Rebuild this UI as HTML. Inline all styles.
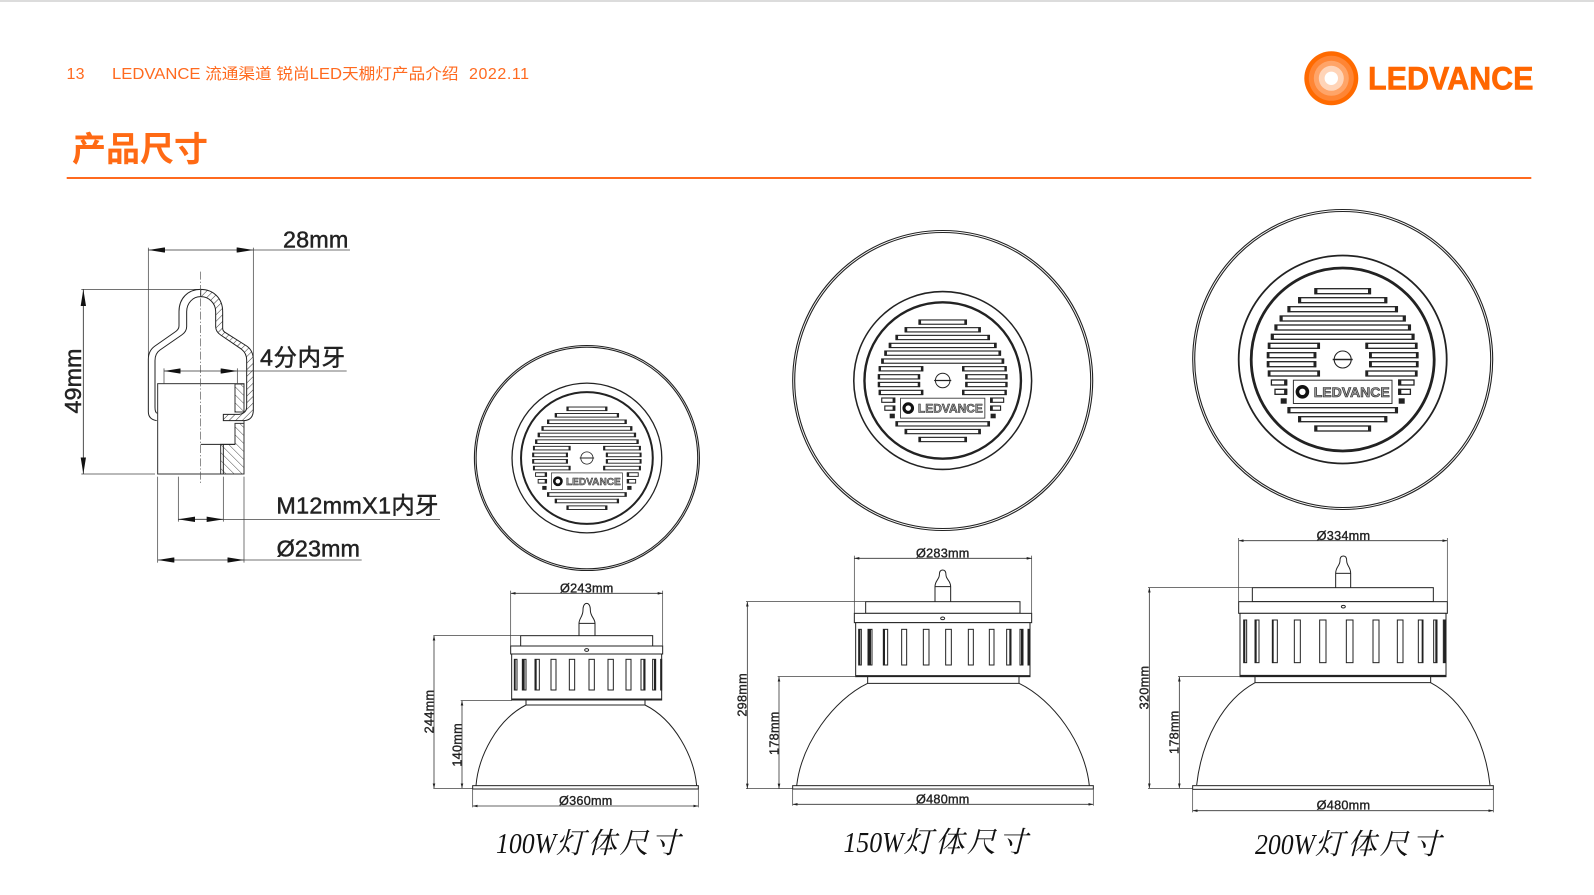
<!DOCTYPE html>
<html lang="zh"><head><meta charset="utf-8"><title>产品尺寸</title>
<style>
html,body{margin:0;padding:0;background:#fff;width:1594px;height:895px;overflow:hidden}
svg{display:block}
text{font-family:"Liberation Sans","Noto Sans CJK SC",sans-serif}
.o{fill:#fff;stroke:#222;stroke-width:3}
.n{fill:none;stroke:#222;stroke-width:3}
.d{fill:none;stroke:#333;stroke-width:2.4;marker-start:url(#a);marker-end:url(#a)}
.e{fill:none;stroke:#444;stroke-width:2.2}
.D{fill:none;stroke:#333;stroke-width:2.6}
.l{font-size:38px;fill:#222;stroke:#222;stroke-width:1.1;text-anchor:middle}
.c{font-size:70px;fill:#222;stroke:#222;stroke-width:1.4}
.t{font-family:"Liberation Serif","Noto Serif CJK SC",serif;font-style:italic;fill:#111;font-size:29px}
.tc{font-family:"Noto Serif CJK SC","Liberation Serif",serif;font-style:italic;fill:#111;font-size:29px}
.s rect{fill:#fff;stroke:#222;stroke-width:1.3}
.k rect{fill:#222;stroke:none}
</style></head><body>
<svg width="1594" height="895" viewBox="0 0 1594 895" xmlns="http://www.w3.org/2000/svg">
<defs>
<marker id="a" viewBox="0 0 15 8" refX="15" refY="4" markerWidth="15" markerHeight="8" orient="auto-start-reverse" markerUnits="userSpaceOnUse"><path d="M0 0L15 4L0 8z" fill="#222"/></marker>
<marker id="b" viewBox="0 0 50 16" refX="50" refY="8" markerWidth="50" markerHeight="16" orient="auto-start-reverse" markerUnits="userSpaceOnUse"><path d="M0 0L50 8L0 16z" fill="#111"/></marker>
<pattern id="h1" width="14" height="14" patternUnits="userSpaceOnUse" patternTransform="rotate(45)"><rect width="14" height="14" fill="#fff"/><line x1="0" y1="0" x2="0" y2="14" stroke="#333" stroke-width="3"/></pattern>
<pattern id="h2" width="17" height="17" patternUnits="userSpaceOnUse" patternTransform="rotate(-45)"><rect width="17" height="17" fill="#fff"/><line x1="0" y1="0" x2="0" y2="17" stroke="#333" stroke-width="2.6"/></pattern>
<g id="half">
<g class="s">
<rect x="-74.3" y="-16.2" width="51" height="5"/><rect x="-75.3" y="-6.8" width="48.3" height="5"/><rect x="-75.3" y="2.2" width="48.3" height="5"/><rect x="-74.3" y="11.5" width="51" height="5"/>
<rect x="-71.3" y="20.5" width="15.3" height="5"/><rect x="-67.7" y="29.8" width="11.7" height="5"/>
</g>
<g class="k">
<rect x="-74.8" y="-16.7" width="2.6" height="6"/><rect x="-25.5" y="-16.7" width="2.8" height="6"/><rect x="-75.8" y="-7.3" width="2.6" height="6"/><rect x="-29.2" y="-7.3" width="2.8" height="6"/><rect x="-75.8" y="1.7" width="2.6" height="6"/><rect x="-29.2" y="1.7" width="2.8" height="6"/><rect x="-74.8" y="11" width="2.6" height="6"/><rect x="-25.5" y="11" width="2.8" height="6"/>
<rect x="-58.6" y="20" width="3" height="6"/><rect x="-58.6" y="29.3" width="3" height="6"/><rect x="-62" y="38.8" width="6" height="5.4"/>
</g>
</g>
<g id="inner">
<circle r="104" fill="#fff" stroke="#222" stroke-width="1.8"/>
<circle r="91.5" fill="#fff" stroke="#222" stroke-width="2.8"/>
<g class="s">
<rect x="-27.8" y="-70.8" width="55.6" height="5"/><rect x="-44" y="-61.8" width="88" height="5"/><rect x="-54.7" y="-52.8" width="109.4" height="5"/><rect x="-62.5" y="-43.5" width="125" height="5"/><rect x="-67.7" y="-34.5" width="135.4" height="5"/><rect x="-71.3" y="-25.2" width="142.6" height="5"/>
<rect x="-54.7" y="48.2" width="109.4" height="5"/><rect x="-44" y="57.2" width="88" height="5"/><rect x="-27.8" y="66.5" width="55.6" height="5"/>
</g>
<g class="k">
<rect x="-28.3" y="-71.3" width="3" height="6"/><rect x="25.3" y="-71.3" width="3" height="6"/><rect x="-44.5" y="-62.3" width="3" height="6"/><rect x="41.5" y="-62.3" width="3" height="6"/><rect x="-55.2" y="-53.3" width="3" height="6"/><rect x="52.2" y="-53.3" width="3" height="6"/><rect x="-63" y="-44" width="3" height="6"/><rect x="60" y="-44" width="3" height="6"/><rect x="-68.2" y="-35" width="3" height="6"/><rect x="65.2" y="-35" width="3" height="6"/><rect x="-71.8" y="-25.7" width="3" height="6"/><rect x="68.8" y="-25.7" width="3" height="6"/>
<rect x="-55.2" y="47.7" width="3" height="6"/><rect x="52.2" y="47.7" width="3" height="6"/><rect x="-44.5" y="56.7" width="3" height="6"/><rect x="41.5" y="56.7" width="3" height="6"/><rect x="-28.3" y="66" width="3" height="6"/><rect x="25.3" y="66" width="3" height="6"/>
</g>
<use href="#half"/><use href="#half" transform="scale(-1,1)"/>
<circle r="8.5" fill="#fff" stroke="#222" stroke-width="1.1"/>
<path d="M-10 0H10" stroke="#222" stroke-width="1.4"/>
<rect x="-49.3" y="20.7" width="98.6" height="23.3" fill="#fff" stroke="#333" stroke-width="1"/>
<circle cx="-40.3" cy="32.3" r="5" fill="#fff" stroke="#111" stroke-width="3.6"/>
</g>
</defs>

<rect x="0" y="0" width="1594" height="2" fill="#dcdcdc"/>

<!-- header -->
<text x="66.5" y="79" font-size="16" fill="#ff6a1f" textLength="18">13</text>
<text x="112" y="79" font-size="15.5" fill="#ff6a1f" textLength="346.5" lengthAdjust="spacingAndGlyphs">LEDVANCE 流通渠道 锐尚LED天棚灯产品介绍</text>
<text x="469" y="79" font-size="16" fill="#ff6a1f" textLength="60">2022.11</text>
<text x="72" y="161" font-size="34" font-weight="700" fill="#ff6a14" textLength="136" lengthAdjust="spacingAndGlyphs" style="font-family:'Noto Sans CJK SC',sans-serif">产品尺寸</text>
<rect x="66.7" y="177" width="1464.6" height="2" fill="#ff6a1f"/>

<!-- logo -->
<circle cx="1331.3" cy="78.3" r="27" fill="#ff6a00"/>
<circle cx="1331.3" cy="78.3" r="22.5" fill="#ff8534"/>
<circle cx="1331.3" cy="78.3" r="17.5" fill="#ffa468"/>
<circle cx="1331.3" cy="78.3" r="12.5" fill="#ffd4b8"/>
<circle cx="1331.3" cy="78.3" r="6.7" fill="#fff"/>
<text x="1368" y="89.5" font-size="32" font-weight="700" fill="#ff6600" stroke="#ff6600" stroke-width=".6" textLength="165.5" lengthAdjust="spacingAndGlyphs">LEDVANCE</text>

<!-- connector -->
<g transform="translate(40,200) scale(.33333)">
<line class="e" x1="325" y1="143" x2="325" y2="470"/>
<line class="e" x1="640" y1="143" x2="640" y2="470"/>
<line class="D" x1="325" y1="150" x2="640" y2="150" style="marker-start:url(#b);marker-end:url(#b)"/>
<line class="e" x1="640" y1="150" x2="930" y2="150"/>
<line class="e" x1="124" y1="268" x2="482" y2="268"/>
<line class="e" x1="124" y1="822" x2="345" y2="822"/>
<line class="D" x1="130" y1="268" x2="130" y2="822" style="marker-start:url(#b);marker-end:url(#b)"/>
<rect x="353" y="551" width="259" height="271" fill="#fff" stroke="#333" stroke-width="3"/>
<path d="M585 552H612V636H585Z" fill="url(#h2)" stroke="#333" stroke-width="3"/>
<path d="M585 670H612V822H542V733H585Z" fill="url(#h2)" stroke="#333" stroke-width="3"/>
<path d="M482 733H585" class="n"/><path d="M550 733V822" class="n"/>
<path d="M482 268C444 268 417 295 417 335V378Q417 388 405 396L345 438Q325 452 325 478V635Q325 658 350 662M482 290C458 290 440 310 440 335V380Q440 395 425 405L360 450Q345 460 345 482V622Q345 638 352 640" class="n"/>
<path d="M482 268C520 268 548 295 548 335V385Q548 392 555 397L620 438Q640 452 640 480V630Q640 660 612 662H550V643H598Q620 640 620 620V480Q620 460 605 448L542 405Q527 395 527 380V335C527 310 507 290 482 290Z" fill="url(#h1)" stroke="#222" stroke-width="3"/>
<line x1="482" y1="215" x2="482" y2="852" stroke="#555" stroke-width="2" stroke-dasharray="24 6 4 6"/>
<line class="e" x1="372" y1="505" x2="372" y2="550"/>
<line class="e" x1="592" y1="505" x2="592" y2="550"/>
<line class="D" x1="372" y1="513" x2="592" y2="513" style="marker-start:url(#b);marker-end:url(#b)"/>
<line class="e" x1="592" y1="513" x2="920" y2="513"/>
<line class="e" x1="415" y1="830" x2="415" y2="965"/>
<line class="e" x1="550" y1="830" x2="550" y2="965"/>
<line class="D" x1="415" y1="958" x2="550" y2="958" style="marker-start:url(#b);marker-end:url(#b)"/>
<line class="e" x1="550" y1="958" x2="1200" y2="958"/>
<line class="e" x1="353" y1="830" x2="353" y2="1088"/>
<line class="e" x1="612" y1="830" x2="612" y2="1088"/>
<line class="D" x1="353" y1="1080" x2="612" y2="1080" style="marker-start:url(#b);marker-end:url(#b)"/>
<line class="e" x1="612" y1="1080" x2="965" y2="1080"/>
<text class="c" x="729" y="142" textLength="196">28mm</text>
<text class="c" x="660" y="497" textLength="255">4分内牙</text>
<text class="c" x="709" y="940" textLength="486">M12mmX1内牙</text>
<text class="c" x="710" y="1070" textLength="250">Ø23mm</text>
<text class="c" transform="translate(123,543) rotate(-90)" text-anchor="middle" textLength="195">49mm</text>
</g>

<!-- top views -->
<circle cx="586.9" cy="458" r="112.5" fill="none" stroke="#222" stroke-width="1.1"/>
<circle cx="586.9" cy="458" r="110.8" fill="none" stroke="#222" stroke-width="1.1"/>
<g transform="translate(586.9,458) scale(.72)"><use href="#inner"/><text x="-29" y="37.5" font-size="14" font-weight="700" fill="#999" stroke="#222" stroke-width=".6" textLength="76" lengthAdjust="spacingAndGlyphs">LEDVANCE</text></g>

<circle cx="942.7" cy="380.5" r="150" fill="none" stroke="#222" stroke-width="1.1"/>
<circle cx="942.7" cy="380.5" r="148" fill="none" stroke="#222" stroke-width="1.1"/>
<g transform="translate(942.7,380.5) scale(.855)"><use href="#inner"/><text x="-29" y="37.5" font-size="14" font-weight="700" fill="#999" stroke="#222" stroke-width=".6" textLength="76" lengthAdjust="spacingAndGlyphs">LEDVANCE</text></g>

<circle cx="1342.7" cy="359.5" r="150" fill="none" stroke="#222" stroke-width="1.1"/>
<circle cx="1342.7" cy="359.5" r="148" fill="none" stroke="#222" stroke-width="1.1"/>
<g transform="translate(1342.7,359.5)"><use href="#inner"/><text x="-29" y="37.5" font-size="14" font-weight="700" fill="#999" stroke="#222" stroke-width=".6" textLength="76" lengthAdjust="spacingAndGlyphs">LEDVANCE</text></g>

<!-- 100W side -->
<g transform="translate(420,570) scale(.33333)">
<path class="o" d="M477 197V160C477 145 489 140 489 120C489 105 495 100 500 100C505 100 511 105 511 120C511 140 525 145 525 160V197"/>
<path class="n" d="M477 160H525"/>
<rect class="o" x="302" y="197" width="396" height="31"/>
<rect class="o" x="272" y="228" width="456" height="24"/>
<ellipse class="n" cx="500" cy="240" rx="6" ry="4"/>
<rect class="o" x="275" y="252" width="450" height="138"/>
<path d="M275 388H725" stroke="#222" stroke-width="5"/>
<path class="o" d="M318 390H675V405H318Z"/>
<path class="n" d="M318 405C230 450 175 560 168 647M675 405C765 450 822 560 830 647"/>
<rect class="o" x="158" y="647" width="677" height="10"/>
<g fill="#fff" stroke="#222" stroke-width="3">
<rect x="283" y="268" width="8" height="92"/><rect x="307" y="268" width="11" height="92"/><rect x="345" y="268" width="13" height="92"/><rect x="393" y="268" width="15" height="92"/><rect x="448" y="268" width="16" height="92"/><rect x="507" y="268" width="16" height="92"/><rect x="564" y="268" width="16" height="92"/><rect x="618" y="268" width="15" height="92"/><rect x="663" y="268" width="12" height="92"/><rect x="698" y="268" width="9" height="92"/><rect x="722" y="268" width="3" height="92"/>
</g>
<g fill="#222"><rect x="283" y="268" width="4" height="92"/><rect x="307" y="268" width="7" height="92"/><rect x="345" y="268" width="5" height="92"/><rect x="670" y="268" width="5" height="92"/><rect x="702" y="268" width="5" height="92"/></g>
<line class="e" x1="272" y1="62" x2="272" y2="228"/><line class="e" x1="728" y1="62" x2="728" y2="228"/>
<line class="d" x1="272" y1="70" x2="728" y2="70"/>
<text class="l" x="500" y="68" textLength="160">Ø243mm</text>
<line class="e" x1="40" y1="197" x2="302" y2="197"/>
<line class="e" x1="40" y1="655" x2="158" y2="655"/>
<line class="d" x1="42" y1="197" x2="42" y2="655"/>
<line class="e" x1="122" y1="392" x2="275" y2="392"/>
<line class="d" x1="126" y1="392" x2="126" y2="655"/>
<text class="l" transform="translate(41,425) rotate(-90)" textLength="130">244mm</text>
<text class="l" transform="translate(124,525) rotate(-90)" textLength="130">140mm</text>
<line class="e" x1="158" y1="657" x2="158" y2="712"/><line class="e" x1="835" y1="657" x2="835" y2="712"/>
<line class="d" x1="158" y1="708" x2="835" y2="708"/>
<text class="l" x="497" y="705" textLength="160">Ø360mm</text>
</g>
<text class="t" x="496" y="853" textLength="60" lengthAdjust="spacingAndGlyphs">100W</text>
<text class="tc" x="556" y="853" textLength="124">灯体尺寸</text>

<!-- 150W side -->
<g transform="translate(730,540) scale(.33333)">
<path class="o" d="M615 185V140C615 122 628 118 628 105C628 95 632 90 638 90C644 90 648 95 648 105C648 118 662 122 662 140V185"/>
<path class="n" d="M615 140H662"/>
<rect class="o" x="407" y="185" width="463" height="35"/>
<rect class="o" x="373" y="220" width="532" height="28"/>
<ellipse class="n" cx="638" cy="235" rx="6" ry="4"/>
<rect class="o" x="377" y="248" width="523" height="162"/>
<path d="M377 408H900" stroke="#222" stroke-width="5"/>
<path class="o" d="M413 410H867V430H413Z"/>
<path class="n" d="M413 430C310 480 215 610 200 737M867 430C970 480 1065 610 1078 737"/>
<rect class="o" x="188" y="737" width="902" height="10"/>
<g fill="#fff" stroke="#222" stroke-width="3">
<rect x="386" y="268" width="8" height="107"/><rect x="414" y="268" width="12" height="107"/><rect x="460" y="268" width="13" height="107"/><rect x="515" y="268" width="15" height="107"/><rect x="580" y="268" width="17" height="107"/><rect x="647" y="268" width="17" height="107"/><rect x="715" y="268" width="15" height="107"/><rect x="778" y="268" width="14" height="107"/><rect x="830" y="268" width="13" height="107"/><rect x="870" y="268" width="9" height="107"/><rect x="894" y="268" width="6" height="107"/>
</g>
<g fill="#222"><rect x="386" y="268" width="5" height="107"/><rect x="414" y="268" width="9" height="107"/><rect x="460" y="268" width="5" height="107"/><rect x="838" y="268" width="5" height="107"/><rect x="873" y="268" width="6" height="107"/><rect x="895" y="268" width="5" height="107"/></g>
<line class="e" x1="373" y1="47" x2="373" y2="220"/><line class="e" x1="905" y1="47" x2="905" y2="220"/>
<line class="d" x1="373" y1="55" x2="905" y2="55"/>
<text class="l" x="638" y="52" textLength="160">Ø283mm</text>
<line class="e" x1="48" y1="185" x2="407" y2="185"/>
<line class="e" x1="48" y1="746" x2="188" y2="746"/>
<line class="d" x1="52" y1="185" x2="52" y2="746"/>
<line class="e" x1="143" y1="410" x2="377" y2="410"/>
<line class="d" x1="147" y1="410" x2="147" y2="746"/>
<text class="l" transform="translate(50,465) rotate(-90)" textLength="130">298mm</text>
<text class="l" transform="translate(145,580) rotate(-90)" textLength="130">178mm</text>
<line class="e" x1="188" y1="747" x2="188" y2="797"/><line class="e" x1="1090" y1="747" x2="1090" y2="797"/>
<line class="d" x1="188" y1="793" x2="1090" y2="793"/>
<text class="l" x="638" y="790" textLength="160">Ø480mm</text>
</g>
<text class="t" x="843.5" y="852" textLength="60" lengthAdjust="spacingAndGlyphs">150W</text>
<text class="tc" x="903.5" y="852" textLength="124">灯体尺寸</text>

<!-- 200W side -->
<g transform="translate(1130,520) scale(.33333)">
<path class="o" d="M617 203V160C617 140 630 138 630 122C630 112 634 108 640 108C646 108 650 112 650 122C650 138 662 140 662 160V203"/>
<path class="n" d="M617 160H662"/>
<rect class="o" x="367" y="203" width="543" height="42"/>
<rect class="o" x="326" y="245" width="626" height="35"/>
<ellipse class="n" cx="640" cy="260" rx="6" ry="4"/>
<rect class="o" x="330" y="280" width="618" height="190"/>
<path d="M330 467H948" stroke="#222" stroke-width="5"/>
<path class="o" d="M375 470H902V488H375Z"/>
<path class="n" d="M375 488C280 540 215 660 200 795M902 488C1000 540 1065 660 1080 795"/>
<rect class="o" x="188" y="797" width="902" height="11"/>
<g fill="#fff" stroke="#222" stroke-width="3">
<rect x="341" y="300" width="9" height="128"/><rect x="375" y="300" width="12" height="128"/><rect x="427" y="300" width="15" height="128"/><rect x="493" y="300" width="18" height="128"/><rect x="569" y="300" width="19" height="128"/><rect x="649" y="300" width="20" height="128"/><rect x="729" y="300" width="18" height="128"/><rect x="802" y="300" width="17" height="128"/><rect x="865" y="300" width="14" height="128"/><rect x="911" y="300" width="10" height="128"/><rect x="940" y="300" width="7" height="128"/>
</g>
<g fill="#222"><rect x="341" y="300" width="5" height="128"/><rect x="375" y="300" width="5" height="128"/><rect x="427" y="300" width="4" height="128"/><rect x="875" y="300" width="4" height="128"/><rect x="916" y="300" width="5" height="128"/><rect x="941" y="300" width="6" height="128"/></g>
<line class="e" x1="326" y1="54" x2="326" y2="245"/><line class="e" x1="952" y1="54" x2="952" y2="245"/>
<line class="d" x1="326" y1="62" x2="952" y2="62"/>
<text class="l" x="640" y="60" textLength="160">Ø334mm</text>
<line class="e" x1="54" y1="203" x2="367" y2="203"/>
<line class="e" x1="54" y1="805" x2="188" y2="805"/>
<line class="d" x1="58" y1="203" x2="58" y2="805"/>
<line class="e" x1="144" y1="470" x2="330" y2="470"/>
<line class="d" x1="148" y1="470" x2="148" y2="805"/>
<text class="l" transform="translate(55,503) rotate(-90)" textLength="130">320mm</text>
<text class="l" transform="translate(145,637) rotate(-90)" textLength="130">178mm</text>
<line class="e" x1="188" y1="808" x2="188" y2="877"/><line class="e" x1="1090" y1="808" x2="1090" y2="877"/>
<line class="d" x1="188" y1="872" x2="1090" y2="872"/>
<text class="l" x="640" y="868" textLength="160">Ø480mm</text>
</g>
<text class="t" x="1255" y="854" textLength="60" lengthAdjust="spacingAndGlyphs">200W</text>
<text class="tc" x="1315" y="854" textLength="126">灯体尺寸</text>
</svg>
</body></html>
